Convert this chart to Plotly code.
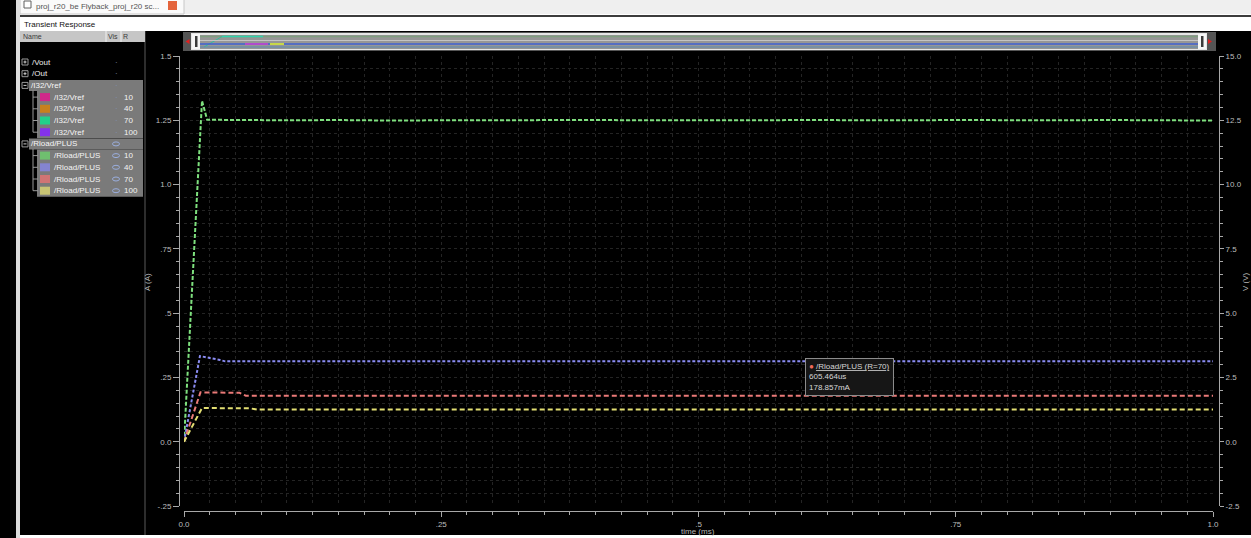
import plotly.graph_objects as go

W, H = 1251, 538

# ---- load current through /Rload/PLUS (A) vs time (ms), one waveform per R sweep value
t_r10 = [0.0, 0.0175, 0.0225, 0.05, 0.1, 0.15, 0.2, 0.25, 0.3, 0.35, 0.4, 0.45, 0.5,
         0.55, 0.6, 0.65, 0.7, 0.75, 0.8, 0.85, 0.9, 0.95, 1.0]
i_r10 = [0.0, 1.326, 1.252, 1.251, 1.250, 1.251, 1.249, 1.250, 1.251, 1.250, 1.251, 1.250,
         1.249, 1.250, 1.251, 1.250, 1.250, 1.251, 1.250, 1.250, 1.251, 1.250, 1.249]

t_r40 = [0.0, 0.0155, 0.035, 0.040, 0.2, 0.4, 0.6, 0.8, 1.0]
i_r40 = [0.0, 0.333, 0.318, 0.3125, 0.3128, 0.3125, 0.3127, 0.3125, 0.3126]

t_r70 = [0.0, 0.016, 0.054, 0.060, 0.3, 0.6, 1.0]
i_r70 = [0.0, 0.192, 0.190, 0.178857, 0.178857, 0.178857, 0.178857]

t_r100 = [0.0, 0.0175, 0.064, 0.071, 0.3, 0.6, 1.0]
i_r100 = [0.0, 0.131, 0.130, 0.125, 0.125, 0.125, 0.125]

sweep_r = ["10", "40", "70", "100"]
rload_colors = ["#7ee07e", "#8a8cf2", "#ea7a78", "#e2de72"]
rload_swatch = ["#6fbf6f", "#8484d0", "#d07474", "#c8c474"]
rload_dash = ["4px,2px", "3px,2px", "5px,3px", "5px,3px"]
vref_colors = ["#d0288a", "#c8801e", "#22d08a", "#8432ea"]

signals = ["/Vout", "/Out", "/I32/Vref", "/Rload/PLUS"]

# ---- axis ticks
x_ticks = [0, 0.25, 0.5, 0.75, 1.0]
x_tick_text = ["0.0", ".25", ".5", ".75", "1.0"]
a_ticks = [-0.25, 0, 0.25, 0.5, 0.75, 1.0, 1.25, 1.5]
a_tick_text = ["-.25", "0.0", ".25", ".5", ".75", "1.0", "1.25", "1.5"]
v_ticks = [-2.5, 0, 2.5, 5, 7.5, 10, 12.5, 15]
v_tick_text = ["-2.5", "0.0", "2.5", "5.0", "7.5", "10.0", "12.5", "15.0"]

# ---- cursor readout on the R=70 waveform
cursor_t = 0.605464
cursor_i = 0.178857

UI_FONT = "Liberation Sans"


def px(x):
    return x / W


def py(y):
    return 1 - y / H


shapes = []
annotations = []


def rect(x0, y0, x1, y1, fill, line=None, lw=1):
    shapes.append(dict(type="rect", xref="paper", yref="paper",
                       x0=px(x0), x1=px(x1), y0=py(y1), y1=py(y0),
                       fillcolor=fill,
                       line=dict(width=0) if line is None else dict(color=line, width=lw),
                       layer="below"))


def seg(x0, y0, x1, y1, color, width=1):
    shapes.append(dict(type="line", xref="paper", yref="paper",
                       x0=px(x0), x1=px(x1), y0=py(y0), y1=py(y1),
                       line=dict(color=color, width=width), layer="below"))


def tri(points, color):
    d = "M " + " L ".join(f"{px(x)} {py(y)}" for x, y in points) + " Z"
    shapes.append(dict(type="path", xref="paper", yref="paper", path=d,
                       fillcolor=color, line=dict(width=0), layer="below"))


def label(x, y, text, size=8, color="#ececec", anchor="left", angle=0, family=UI_FONT):
    annotations.append(dict(xref="paper", yref="paper", x=px(x), y=py(y), text=text,
                            showarrow=False, xanchor=anchor, yanchor="middle",
                            textangle=angle, borderpad=0,
                            font=dict(size=size, color=color, family=family)))


# ---- window chrome
rect(0, 0, W, 14, "#efefef")
rect(20, -2, 184, 14, "#fafafa", line="#c8c8c8")
rect(24, 1, 31, 8, "#ffffff", line="#606060")
label(35, 6, "proj_r20_be Flyback_proj_r20 sc...", size=8, color="#555555")
rect(168, 1, 177, 10, "#e4643c")
seg(16, 16, W, 16, "#3c3c3c", 2)
rect(0, 0, 16, H, "#000000")
rect(16, 0, 20, H, "#dcdcdc")
label(23, 25, "Transient Response", size=8, color="#111111")

# ---- dark backdrops: signal list panel and waveform area
rect(20, 31, 145, 535, "#000000")
rect(145, 31, W, 535, "#000000")
seg(145, 31, 145, 535, "#5a5a5a", 1)

# list header
rect(20, 31, 145, 42, "#c6c6c6")
seg(106, 31, 106, 42, "#f0f0f0", 1)
seg(121, 31, 121, 42, "#f0f0f0", 1)
label(22, 36.5, "Name", size=7, color="#3a3a3a")
label(107, 36.5, "Vis", size=7, color="#3a3a3a")
label(122, 36.5, "R", size=7, color="#3a3a3a")

# signal tree
row_h = 11.7
row_y = [62 + row_h * k for k in range(12)]
y_vout, y_out, y_vref, y_rload = row_y[0], row_y[1], row_y[2], row_y[7]
vref_rows = row_y[3:7]
rload_rows = row_y[8:12]

rect(29, y_vref - 5.5, 143, y_vref + 5.5, "#7a7a7a")
rect(37, vref_rows[0] - 6, 143, vref_rows[-1] + 6, "#7a7a7a")
rect(29, y_rload - 5.5, 143, y_rload + 5.5, "#7a7a7a")
rect(37, rload_rows[0] - 6, 143, rload_rows[-1] + 6, "#7a7a7a")

for y, plus in [(y_vout, True), (y_out, True), (y_vref, False), (y_rload, False)]:
    rect(22, y - 3, 28, y + 3, "#000000", line="#9a9a9a")
    seg(23.5, y, 26.5, y, "#d0d0d0", 1)
    if plus:
        seg(25, y - 1.5, 25, y + 1.5, "#d0d0d0", 1)

seg(33, y_vref + 5, 33, vref_rows[-1], "#9a9a9a", 1)
seg(33, y_rload + 5, 33, rload_rows[-1], "#9a9a9a", 1)
for y in vref_rows + rload_rows:
    seg(33, y, 38, y, "#9a9a9a", 1)

label(31, y_vout, signals[0])
label(31, y_out, signals[1])
label(30, y_vref, signals[2], color="#f6f6f6")
label(30, y_rload, signals[3], color="#f6f6f6")
for y in [y_vout, y_out, y_vref]:
    label(116, y, "·", size=8, color="#8090b8", anchor="center")


def eye(x, y):
    shapes.append(dict(type="circle", xref="paper", yref="paper",
                       x0=px(x - 3.5), x1=px(x + 3.5), y0=py(y + 2), y1=py(y - 2),
                       line=dict(color="#9aaede", width=1), fillcolor="rgba(0,0,0,0)",
                       layer="below"))


eye(116, y_rload)
for k in range(4):
    yv, yr = vref_rows[k], rload_rows[k]
    rect(40, yv - 4, 50, yv + 4, vref_colors[k])
    rect(40, yr - 4, 50, yr + 4, rload_swatch[k])
    label(53, yv, signals[2], color="#f4f4f4")
    label(53, yr, signals[3], color="#f4f4f4")
    label(116, yv, "·", color="#8090b8", anchor="center")
    eye(116, yr)
    label(123, yv, sweep_r[k], color="#f4f4f4")
    label(123, yr, sweep_r[k], color="#f4f4f4")

# ---- overview strip above the waveform area
rect(183, 32, 1216, 51, "#555555")
rect(191, 33, 1207, 50, "#e6e6e6")
rect(200, 35, 1198, 49, "#969696")
seg(200, 36.5, 1198, 36.5, "#7f9f7f", 1.5)
seg(204, 47, 222, 36.5, "#30c0a0", 1)
seg(222, 36.5, 263, 36.5, "#32d4ac", 1.5)
seg(200, 40.5, 1198, 40.5, "#c4c4c4", 1)
seg(200, 44, 1198, 44, "#3f60d0", 1.5)
seg(245, 44, 268, 44, "#d040d0", 1.5)
seg(270, 44, 284, 44, "#c8d848", 2)
seg(200, 47, 1198, 47, "#5a8ab0", 1)
rect(192, 34, 200, 49, "#f6f6f6")
rect(195, 36, 197.5, 47, "#3a3a3a")
rect(1198, 34, 1206, 49, "#f6f6f6")
rect(1201, 36, 1203.5, 47, "#3a3a3a")
tri([(185.5, 41.5), (189.5, 39), (189.5, 44)], "#e02020")
tri([(1212, 41.5), (1208, 39), (1208, 44)], "#e02020")

# ---- axis titles
label(147, 282, "A (A)", size=8, color="#b8b8b8", anchor="center", angle=-90)
label(1245, 282, "V (V)", size=8, color="#b8b8b8", anchor="center", angle=-90)
label(698, 531, "time (ms)", size=8, color="#b8b8b8", anchor="center")

# ---- waveforms
fig = go.Figure()
series = [(t_r10, i_r10), (t_r40, i_r40), (t_r70, i_r70), (t_r100, i_r100)]
for k, (t, i) in enumerate(series):
    fig.add_trace(go.Scatter(
        x=t, y=i, mode="lines", name=f"/Rload/PLUS (R={sweep_r[k]})",
        line=dict(color=rload_colors[k], width=2, dash=rload_dash[k]),
        xaxis="x", yaxis="y", hoverinfo="skip"))
# voltage scale (right axis)
fig.add_trace(go.Scatter(x=[], y=[], mode="lines", xaxis="x", yaxis="y2",
                         showlegend=False, hoverinfo="skip"))

# cursor readout
annotations.append(dict(
    xref="x", yref="y", x=cursor_t, y=cursor_i,
    text=("<span style='color:#f06a5a'>●</span> <u>/Rload/PLUS (R=70)</u><br>"
          f"{cursor_t * 1000:.3f}us<br>{cursor_i * 1000:.3f}mA"),
    align="left", showarrow=True, arrowhead=0, arrowwidth=1, arrowcolor="#9a9a9a",
    ax=42, ay=-19, bgcolor="#161616", bordercolor="#8c8c8c", borderwidth=1, borderpad=3,
    font=dict(size=8, color="#d8d8d8", family=UI_FONT)))

GRID = "#242424"
AXC = "#a8a8a8"
TICKF = dict(size=8, color="#bdbdbd", family=UI_FONT)

fig.update_layout(
    template="none",
    width=W, height=H, autosize=False,
    margin=dict(l=0, r=0, t=0, b=0, pad=0, autoexpand=False),
    paper_bgcolor="#ffffff", plot_bgcolor="#000000",
    showlegend=False,
    shapes=shapes, annotations=annotations,
    xaxis=dict(
        domain=[px(184), px(1213)], range=[0, 1], anchor="free", position=27 / H,
        automargin=False,
        tickvals=x_ticks, ticktext=x_tick_text, ticks="outside", ticklen=5,
        tickcolor=AXC, tickfont=TICKF, showline=True, linecolor=AXC, linewidth=1,
        zeroline=False, showgrid=True, gridcolor=GRID, griddash="dot",
        minor=dict(dtick=0.025, ticks="outside", ticklen=3, tickcolor=AXC,
                   showgrid=True, gridcolor=GRID, griddash="dot")),
    yaxis=dict(
        domain=[32 / H, 482 / H], range=[-0.25, 1.5], anchor="free", position=px(179),
        side="left", automargin=False,
        tickvals=a_ticks, ticktext=a_tick_text, ticks="outside", ticklen=6,
        tickcolor=AXC, tickfont=TICKF, showline=True, linecolor=AXC, linewidth=1,
        zeroline=False, showgrid=True, gridcolor=GRID, griddash="dot",
        minor=dict(dtick=0.05, ticks="outside", ticklen=3, tickcolor=AXC,
                   showgrid=True, gridcolor=GRID, griddash="dot")),
    yaxis2=dict(
        overlaying="y", side="right", range=[-2.5, 15], anchor="free", position=px(1219),
        automargin=False,
        tickvals=v_ticks, ticktext=v_tick_text, ticks="outside", ticklen=4,
        tickcolor=AXC, tickfont=TICKF, showline=True, linecolor=AXC, linewidth=1,
        zeroline=False, showgrid=False,
        minor=dict(dtick=0.5, ticks="outside", ticklen=3, tickcolor=AXC, showgrid=False)),
)

fig.write_html("out.html", config={"displayModeBar": False})
